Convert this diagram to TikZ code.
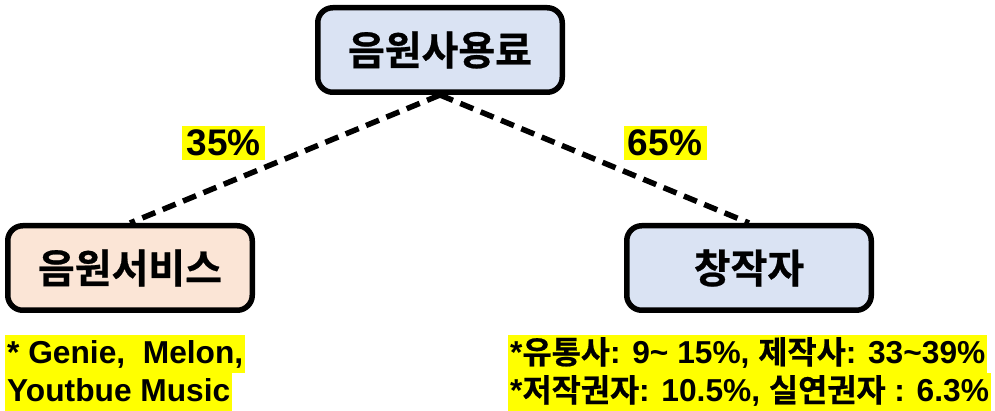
\documentclass[tikz,border=0pt]{standalone}
\usepackage{fontspec}
\setmainfont{Liberation Sans}
\newfontfamily\kr{Noto Sans CJK KR}[BoldFont={Noto Sans CJK KR Bold}, BoldFeatures={FakeBold=0.6}]
\newcommand{\K}[1]{{\kr #1}}
\definecolor{boxblue}{HTML}{DAE3F3}
\definecolor{boxpeach}{HTML}{FBE5D6}
\definecolor{hl}{HTML}{FFFF00}
\begin{document}
\begin{tikzpicture}[x=1pt,y=-1pt,
  mainbox/.style={draw=black, line width=5.5pt, rounded corners=15pt,
    minimum width=244.5pt, minimum height=84.5pt, inner sep=0pt,
    font=\kr\bfseries\fontsize{40}{42}\selectfont},
  dashline/.style={line width=5.5pt, dash pattern=on 14pt off 8pt},
  pct/.style={fill=hl, minimum width=83pt, minimum height=34pt, inner sep=0pt,
    font=\bfseries\fontsize{37}{38}\selectfont},
  note/.style={fill=hl, anchor=north west, inner xsep=2pt, inner ysep=1.5pt,
    text height=27pt, text depth=8pt,
    font=\bfseries\fontsize{31.7}{37}\selectfont}]
\useasboundingbox (0,0) rectangle (995,411);
\node[mainbox, fill=boxblue] (top) at (440,50) {음원사용료};
\node[mainbox, fill=boxpeach] (left) at (130,268) {음원서비스};
\node[mainbox, fill=boxblue] (right) at (749,268) {창작자};
\draw[dashline] (top.south) -- (left.north);
\draw[dashline] (top.south) -- (right.north);
\node[pct] (p35) at (223.5,143) {35\%};
\node[pct] (p65) at (665,143) {65\%};
\node[note] (l1) at (5,335) {* Genie,\ \ Melon,\ };
\node[note] (l2) at (5,373) {Youtbue Music};
\node[note] (r1) at (508,335) {*\K{유통사}: 9\textasciitilde{} 15\%, \K{제작사}: 33\textasciitilde39\%};
\node[note] (r2) at (508,373) {*\K{저작권자}: 10.5\%, \K{실연권자} : 6.3\%};
\end{tikzpicture}
\end{document}
